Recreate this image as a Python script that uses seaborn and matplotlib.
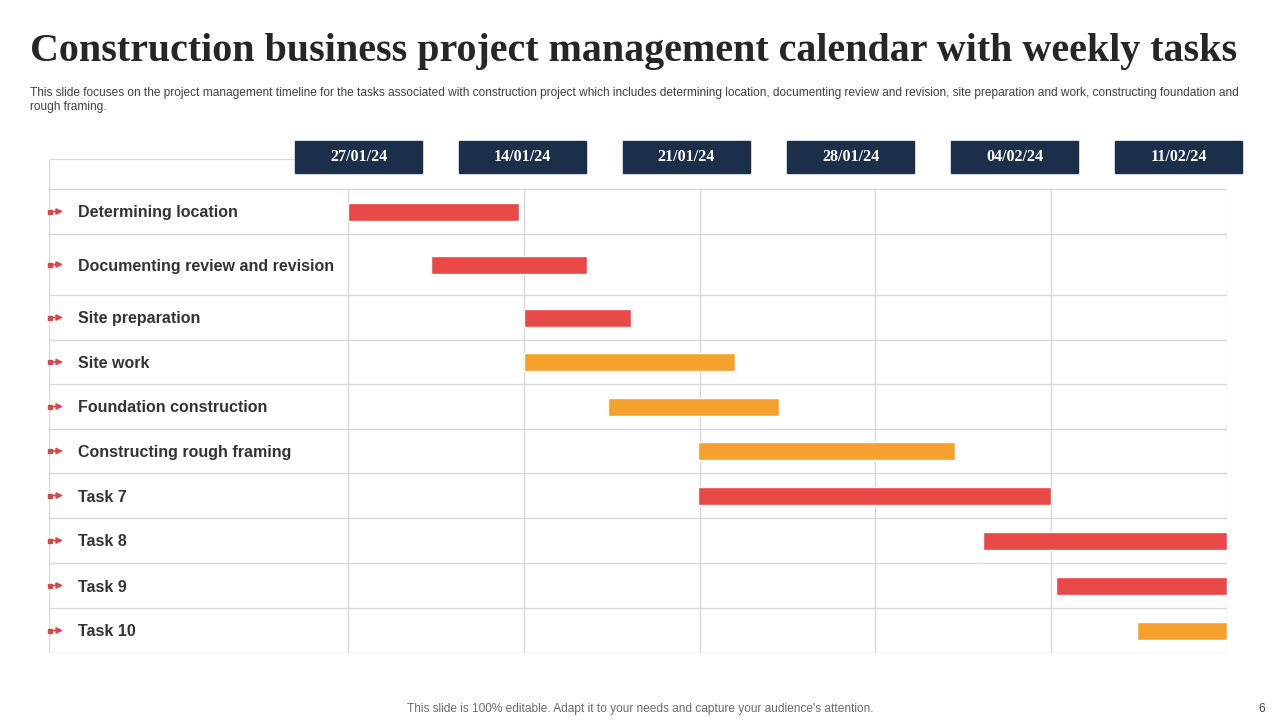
import matplotlib
matplotlib.use("Agg")
import matplotlib.pyplot as plt
from matplotlib.patches import Rectangle
import seaborn as sns

# data (x in weeks from the first grid column)
tasks = [
    "Determining location",
    "Documenting review and revision",
    "Site preparation",
    "Site work",
    "Foundation construction",
    "Constructing rough framing",
    "Task 7",
    "Task 8",
    "Task 9",
    "Task 10",
]
starts = [0.0, 0.47, 1.0, 1.0, 1.48, 1.99, 1.99, 3.61, 4.03, 4.49]
ends = [0.97, 1.36, 1.61, 2.2, 2.45, 3.45, 4.0, 5.0, 5.0, 5.0]
bar_kind = ["red", "red", "red", "orange", "orange", "orange", "red", "red", "red", "orange"]
week_labels = ["27/01/24", "14/01/24", "21/01/24", "28/01/24", "04/02/24", "11/02/24"]

title = "Construction business project management calendar with weekly tasks"
subtitle = ("This slide focuses on the project management timeline for the tasks associated with "
            "construction project which includes determining location, documenting review and revision, "
            "site preparation and work, constructing foundation and\nrough framing.")
footer = "This slide is 100% editable. Adapt it to your needs and capture your audience's attention."

RED = "#E84846"
ORANGE = "#F6A12E"
NAVY = "#1B2E4A"
GRID = "#D9D9D9"
TEXT = "#333333"

W, H = 1280, 720
# table layout in pixels
TAB_L, TAB_R, TAB_T, TAB_B = 49, 1227, 159, 653
COL0 = 348
row_edges = [189, 234, 295, 340, 384, 429, 473, 518, 563, 608, 653]
n_weeks = 5

sns.set_theme(style="white")

fig = plt.figure(figsize=(12.8, 7.2), dpi=100)
fig.patch.set_facecolor("white")

col_w = (TAB_R - COL0) / n_weeks
x_left = -(COL0 - TAB_L) / col_w

ax = fig.add_axes([TAB_L / W, 1 - TAB_B / H, (TAB_R - TAB_L) / W, (TAB_B - TAB_T) / H])
ax.set_xlim(x_left, n_weeks)
ax.set_ylim(TAB_B, TAB_T)
ax.axis("off")

# grid
for y in row_edges:
    ax.plot([x_left, n_weeks], [y, y], color=GRID, lw=1, zorder=1)
for k in range(n_weeks + 1):
    ax.plot([k, k], [row_edges[0], TAB_B], color=GRID, lw=1, zorder=1)
ax.plot([x_left, x_left], [TAB_T, TAB_B], color=GRID, lw=1, zorder=1)
ax.plot([x_left, -0.3], [TAB_T, TAB_T], color=GRID, lw=1, zorder=1)

# gantt bars
centers = [(a + b) / 2 for a, b in zip(row_edges[:-1], row_edges[1:])]
colors = [RED if c == "red" else ORANGE for c in bar_kind]
widths = [e - s for s, e in zip(starts, ends)]
ax.barh(centers, widths, left=starts, height=18, color=colors, zorder=3)

# overlay in pixel coordinates for slide decorations
ov = fig.add_axes([0, 0, 1, 1], facecolor="none")
ov.set_xlim(0, W)
ov.set_ylim(H, 0)
ov.axis("off")

ov.text(30, 52, title, fontsize=28.8, fontweight="bold", family="Liberation Serif",
        color="#262626", va="center", ha="left")
ov.text(30, 87, subtitle, fontsize=8.6, family="Liberation Sans", color="#404040",
        va="top", ha="left", linespacing=1.2)

for i, lab in enumerate(week_labels):
    x0 = 295 + i * 164
    ov.add_patch(Rectangle((x0, 141), 127, 32, color=NAVY, zorder=4))
    ov.text(x0 + 63.5, 157, lab, color="white", fontsize=11.5, fontweight="bold",
            family="Liberation Serif", ha="center", va="center", zorder=5)

for name, yc in zip(tasks, centers):
    ov.text(78, yc + 1.5, name, fontsize=11.5, fontweight="bold", family="Liberation Sans",
            color=TEXT, ha="left", va="center")
    ov.plot([50], [yc], marker="s", ms=3.5, color="#D9474A", zorder=5)
    ov.annotate("", xy=(63, yc), xytext=(52, yc),
                arrowprops=dict(arrowstyle="-|>", color="#D9474A", lw=1.2,
                                mutation_scale=9, shrinkA=0, shrinkB=0))

ov.text(640, 709, footer, fontsize=8.6, family="Liberation Sans", color="#6b6b6b",
        ha="center", va="center")
ov.text(1262, 709, "6", fontsize=8.6, family="Liberation Sans", color="#404040",
        ha="center", va="center")

fig.savefig("out.png", dpi=100)
